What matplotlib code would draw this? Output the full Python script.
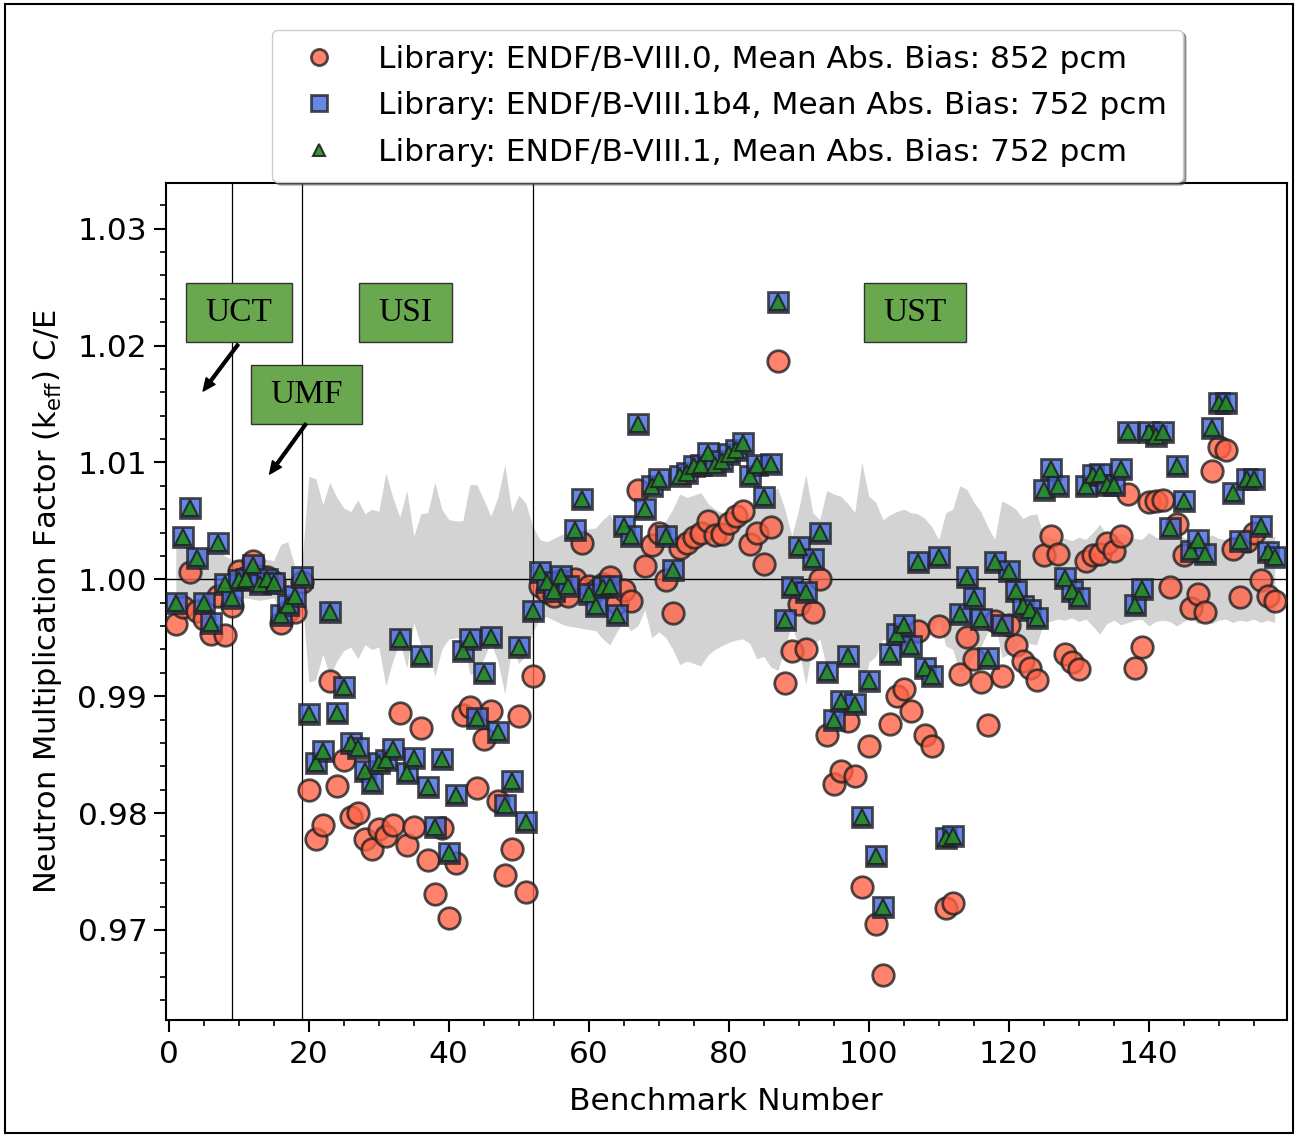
import numpy as np
import matplotlib
matplotlib.use('Agg')
import matplotlib.pyplot as plt
from matplotlib.patches import Rectangle
from matplotlib.ticker import MultipleLocator, FormatStrFormatter

# benchmark numbers 1..158
bench = np.arange(1, 159)

# ENDF/B-VIII.0 C/E
ce_80 = [
    0.9962, 0.9976, 1.0006, 0.9973, 0.9966, 0.9953, 0.9986, 0.9952, 0.9977, 1.0007,
    1.0002, 1.0016, 1.0003, 1.0002, 0.9998, 0.9963, 0.9973, 0.9972, 0.9998, 0.9820,
    0.9778, 0.9790, 0.9913, 0.9823, 0.9845, 0.9797, 0.9800, 0.9778, 0.9769, 0.9786,
    0.9780, 0.9790, 0.9886, 0.9773, 0.9788, 0.9873, 0.9760, 0.9731, 0.9787, 0.9710,
    0.9757, 0.9884, 0.9891, 0.9821, 0.9863, 0.9887, 0.9810, 0.9747, 0.9769, 0.9883,
    0.9732, 0.9917, 0.9994, 0.9989, 0.9986, 0.9999, 0.9986, 1.0000, 1.0031, 0.9994,
    0.9991, 0.9996, 1.0002, 0.9980, 0.9991, 0.9981, 1.0076, 1.0011, 1.0029, 1.0040,
    0.9999, 0.9971, 1.0027, 1.0031, 1.0036, 1.0040, 1.0050, 1.0038, 1.0039, 1.0048,
    1.0054, 1.0058, 1.0030, 1.0040, 1.0013, 1.0045, 1.0187, 0.9911, 0.9939, 0.9979,
    0.9940, 0.9972, 1.0000, 0.9867, 0.9825, 0.9836, 0.9879, 0.9832, 0.9737, 0.9857,
    0.9705, 0.9661, 0.9876, 0.9900, 0.9906, 0.9887, 0.9956, 0.9867, 0.9857, 0.9960,
    0.9719, 0.9723, 0.9919, 0.9951, 0.9932, 0.9912, 0.9875, 0.9964, 0.9917, 0.9961,
    0.9944, 0.9930, 0.9924, 0.9914, 1.0021, 1.0037, 1.0022, 0.9936, 0.9929, 0.9923,
    1.0016, 1.0021, 1.0022, 1.0031, 1.0024, 1.0037, 1.0073, 0.9924, 0.9942, 1.0066,
    1.0067, 1.0068, 0.9993, 1.0047, 1.0021, 0.9975, 0.9987, 0.9972, 1.0093, 1.0113,
    1.0111, 1.0026, 0.9985, 1.0033, 1.0040, 0.9999, 0.9986, 0.9981,
]

# ENDF/B-VIII.1b4 and ENDF/B-VIII.1 (identical results)
ce_81 = [
    0.9980, 1.0036, 1.0061, 1.0018, 0.9980, 0.9963, 1.0031, 0.9996, 0.9984, 0.9999,
    1.0000, 1.0012, 0.9996, 1.0000, 0.9997, 0.9969, 0.9978, 0.9986, 1.0002, 0.9885,
    0.9843, 0.9853, 0.9972, 0.9886, 0.9908, 0.9860, 0.9856, 0.9836, 0.9826, 0.9843,
    0.9845, 0.9855, 0.9949, 0.9834, 0.9847, 0.9934, 0.9822, 0.9788, 0.9846, 0.9766,
    0.9815, 0.9939, 0.9949, 0.9881, 0.9920, 0.9951, 0.9869, 0.9807, 0.9827, 0.9942,
    0.9792, 0.9973, 1.0006, 0.9998, 0.9990, 1.0003, 0.9994, 1.0042, 1.0069, 0.9987,
    0.9977, 0.9993, 0.9994, 0.9969, 1.0046, 1.0037, 1.0133, 1.0060, 1.0080, 1.0086,
    1.0037, 1.0008, 1.0088, 1.0091, 1.0097, 1.0098, 1.0108, 1.0098, 1.0101, 1.0107,
    1.0111, 1.0117, 1.0088, 1.0098, 1.0070, 1.0099, 1.0237, 0.9965, 0.9993, 1.0028,
    0.9989, 1.0017, 1.0040, 0.9921, 0.9880, 0.9896, 0.9934, 0.9893, 0.9797, 0.9913,
    0.9763, 0.9720, 0.9936, 0.9953, 0.9961, 0.9943, 1.0015, 0.9924, 0.9917, 1.0019,
    0.9779, 0.9780, 0.9970, 1.0002, 0.9984, 0.9966, 0.9933, 1.0015, 0.9961, 1.0007,
    0.9990, 0.9977, 0.9974, 0.9967, 1.0076, 1.0094, 1.0080, 1.0001, 0.9990, 0.9984,
    1.0080, 1.0089, 1.0090, 1.0081, 1.0081, 1.0094, 1.0126, 0.9978, 0.9992, 1.0126,
    1.0123, 1.0126, 1.0044, 1.0097, 1.0067, 1.0024, 1.0034, 1.0022, 1.0129, 1.0151,
    1.0151, 1.0074, 1.0033, 1.0086, 1.0086, 1.0046, 1.0023, 1.0019,
]

# experimental uncertainty (1 sigma) -> grey band
unc = [
    0.0027, 0.0027, 0.0028, 0.0027, 0.0026, 0.0026, 0.0025, 0.0020, 0.0017, 0.0017,
    0.0016, 0.0017, 0.0018, 0.0017, 0.0016, 0.0030, 0.0032, 0.0011, 0.0012, 0.0088,
    0.0086, 0.0064, 0.0083, 0.0070, 0.0061, 0.0058, 0.0068, 0.0056, 0.0060, 0.0058,
    0.0091, 0.0070, 0.0053, 0.0076, 0.0037, 0.0056, 0.0057, 0.0083, 0.0060, 0.0051,
    0.0050, 0.0050, 0.0081, 0.0081, 0.0068, 0.0054, 0.0070, 0.0098, 0.0058, 0.0072,
    0.0065, 0.0045, 0.0034, 0.0032, 0.0035, 0.0038, 0.0040, 0.0041, 0.0042, 0.0043,
    0.0044, 0.0051, 0.0056, 0.0045, 0.0036, 0.0044, 0.0040, 0.0026, 0.0050, 0.0045,
    0.0050, 0.0060, 0.0073, 0.0070, 0.0072, 0.0074, 0.0065, 0.0060, 0.0057, 0.0054,
    0.0052, 0.0051, 0.0055, 0.0068, 0.0066, 0.0075, 0.0078, 0.0060, 0.0037, 0.0060,
    0.0090, 0.0057, 0.0051, 0.0076, 0.0073, 0.0071, 0.0065, 0.0057, 0.0100, 0.0071,
    0.0066, 0.0051, 0.0055, 0.0058, 0.0060, 0.0057, 0.0056, 0.0052, 0.0045, 0.0034,
    0.0057, 0.0060, 0.0080, 0.0077, 0.0066, 0.0058, 0.0045, 0.0034, 0.0067, 0.0064,
    0.0060, 0.0052, 0.0055, 0.0056, 0.0037, 0.0036, 0.0034, 0.0035, 0.0033, 0.0036,
    0.0034, 0.0040, 0.0047, 0.0038, 0.0035, 0.0039, 0.0037, 0.0035, 0.0034, 0.0040,
    0.0036, 0.0035, 0.0036, 0.0040, 0.0036, 0.0033, 0.0038, 0.0035, 0.0038, 0.0035,
    0.0034, 0.0037, 0.0035, 0.0036, 0.0034, 0.0037, 0.0035, 0.0037,
]

# category boundaries and labels
boundaries = [9, 19, 52]
categories = ['UCT', 'UMF', 'USI', 'UST']
cat_text_pos = [(10.0, 1.0228), (19.7, 1.0158), (33.8, 1.0228), (106.6, 1.0228)]
# arrows: (start, end) or None
cat_arrows = [((9.9, 1.0201), (4.9, 1.0161)), ((19.6, 1.0133), (14.4, 1.0090)), None, None]

labels = ['Library: ENDF/B-VIII.0, Mean Abs. Bias: 852 pcm',
          'Library: ENDF/B-VIII.1b4, Mean Abs. Bias: 752 pcm',
          'Library: ENDF/B-VIII.1, Mean Abs. Bias: 752 pcm']

fig = plt.figure(figsize=(12.97, 11.37), dpi=100)
ax = fig.add_axes([0.128, 0.103, 0.864, 0.736])

unc = np.array(unc)
ax.fill_between(bench, 1 - unc, 1 + unc, color='#d3d3d3', lw=0, zorder=1)
ax.axhline(1.0, color='black', lw=1.0, zorder=2)
for b in boundaries:
    ax.axvline(b, color='black', lw=0.9, zorder=2)

ax.plot(bench, ce_80, 'o', ms=15.5, mfc='tomato', mec='#222222', mew=2, alpha=0.8,
        label=labels[0], zorder=3)
ax.plot(bench, ce_81, 's', ms=14.5, mfc='royalblue', mec='#222222', mew=2, alpha=0.8,
        label=labels[1], zorder=4)
ax.plot(bench, ce_81, '^', ms=12, mfc='forestgreen', mec='#222222', mew=1.5, alpha=0.9,
        label=labels[2], zorder=5)

for name, pos, arr in zip(categories, cat_text_pos, cat_arrows):
    ax.text(pos[0], pos[1], name, ha='center', va='center', fontsize=24,
            family='Liberation Serif', zorder=6,
            bbox=dict(boxstyle='square,pad=0.58', mutation_aspect=0.74,
                      fc='#6aa84f', ec='#333333', lw=1))
    if arr is not None:
        ax.annotate('', xy=arr[1], xytext=arr[0], zorder=6,
                    arrowprops=dict(facecolor='black', edgecolor='black', width=2,
                                    headwidth=8, headlength=9, shrink=0.0))

ax.set_xlim(-0.4, 159.7)
ax.set_ylim(0.9623, 1.0339)
ax.xaxis.set_major_locator(MultipleLocator(20))
ax.xaxis.set_minor_locator(MultipleLocator(5))
ax.yaxis.set_major_locator(MultipleLocator(0.01))
ax.yaxis.set_minor_locator(MultipleLocator(0.002))
ax.yaxis.set_major_formatter(FormatStrFormatter('%.2f'))
ax.tick_params(which='major', labelsize=22.5, length=8.5, width=1.5, pad=5)
ax.tick_params(axis='x', which='major', pad=6)
ax.tick_params(which='minor', length=4.5, width=1.2)
for sp in ax.spines.values():
    sp.set_linewidth(1.5)

ax.set_xlabel('Benchmark Number', fontsize=22.5, labelpad=13)
ax.set_ylabel(r'Neutron Multiplication Factor (k$_{\mathregular{eff}}$) C/E', fontsize=22,
              labelpad=10)

ax.legend(loc='upper center', bbox_to_anchor=(0.561, 0.974), bbox_transform=fig.transFigure,
          borderaxespad=0, fontsize=22.5, shadow=True, fancybox=True, framealpha=1,
          markerscale=0.75, labelspacing=0.55, handletextpad=0.9, borderpad=0.5)

fig.patches.append(Rectangle((5 / 1297, 4 / 1137), 1288 / 1297, 1129 / 1137,
                             transform=fig.transFigure, fill=False, ec='black', lw=1.5))

fig.savefig('out.png', dpi=100)
